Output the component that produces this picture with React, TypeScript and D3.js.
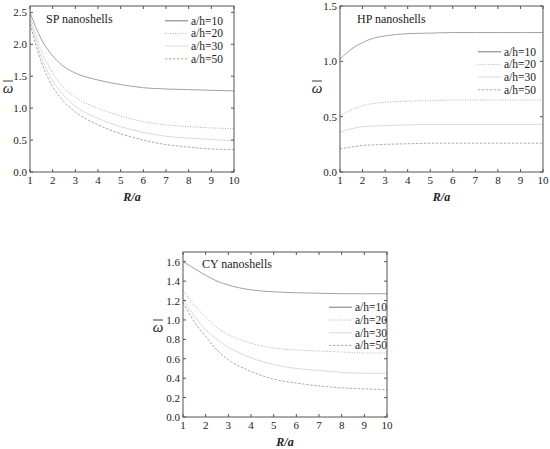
import { scaleLinear, line, curveMonotoneX } from 'd3'

// x values (R/a) shared by every curve
const rValues = [1, 1.5, 2, 2.5, 3, 4, 5, 6, 7, 8, 9, 10]
const seriesNames = ['a/h=10', 'a/h=20', 'a/h=30', 'a/h=50']

const spValues = [
  [2.5, 2.08, 1.82, 1.65, 1.55, 1.44, 1.37, 1.32, 1.3, 1.29, 1.28, 1.27],
  [2.45, 1.9, 1.55, 1.32, 1.17, 1.0, 0.88, 0.79, 0.74, 0.71, 0.69, 0.68],
  [2.38, 1.8, 1.43, 1.19, 1.03, 0.84, 0.71, 0.62, 0.56, 0.53, 0.51, 0.49],
  [2.32, 1.72, 1.34, 1.1, 0.94, 0.74, 0.6, 0.5, 0.43, 0.39, 0.36, 0.35],
]
const hpValues = [
  [1.02, 1.11, 1.17, 1.21, 1.23, 1.25, 1.255, 1.26, 1.26, 1.26, 1.26, 1.26],
  [0.51, 0.56, 0.6, 0.62, 0.63, 0.64, 0.645, 0.65, 0.65, 0.65, 0.65, 0.65],
  [0.36, 0.39, 0.41, 0.415, 0.42, 0.425, 0.43, 0.43, 0.43, 0.43, 0.43, 0.43],
  [0.21, 0.225, 0.24, 0.245, 0.25, 0.255, 0.26, 0.26, 0.26, 0.26, 0.26, 0.26],
]
const cyValues = [
  [1.6, 1.53, 1.46, 1.4, 1.36, 1.31, 1.29, 1.28, 1.275, 1.27, 1.27, 1.27],
  [1.31, 1.15, 1.03, 0.92, 0.85, 0.76, 0.71, 0.69, 0.68, 0.67, 0.66, 0.66],
  [1.22, 1.04, 0.9, 0.8, 0.72, 0.61, 0.54, 0.5, 0.48, 0.46, 0.45, 0.45],
  [1.18, 0.98, 0.83, 0.69, 0.59, 0.47, 0.39, 0.35, 0.32, 0.3, 0.29, 0.28],
]

const xTicks = [1, 2, 3, 4, 5, 6, 7, 8, 9, 10]
const spTicks = [0, 0.5, 1.0, 1.5, 2.0, 2.5]
const hpTicks = [0, 0.5, 1.0, 1.5]
const cyTicks = [0, 0.2, 0.4, 0.6, 0.8, 1.0, 1.2, 1.4, 1.6]

const styles = [
  { stroke: '#a2a2a2', dash: null },
  { stroke: '#b0b0b0', dash: '1,1.5' },
  { stroke: '#dadada', dash: null },
  { stroke: '#ababab', dash: '2.5,1.5' },
]

const FONT = "'Liberation Serif', 'Times New Roman', Times, serif"
const AXIS = '#555'
const TXT = { fontFamily: FONT }

function Panel({ values, yMax, yTicks, box, title, titlePos, legend, yLabelPos }) {
  const [left, right, top, bottom] = box
  const x = scaleLinear().domain([1, 10]).range([left, right])
  const y = scaleLinear().domain([0, yMax]).range([bottom, top])
  const path = line<number>()
    .x((_, i) => x(rValues[i]))
    .y((d) => y(d))
    .curve(curveMonotoneX)

  return (
    <g>
      {values.map((s, i) => (
        <path
          key={i}
          d={path(s) || ''}
          fill="none"
          stroke={styles[i].stroke}
          strokeWidth={1}
          strokeDasharray={styles[i].dash || undefined}
        />
      ))}
      <rect x={left} y={top} width={right - left} height={bottom - top} fill="none" stroke={AXIS} strokeWidth={1} />
      {xTicks.map((t) => (
        <g key={'x' + t}>
          <line x1={x(t)} x2={x(t)} y1={bottom} y2={bottom - 3} stroke={AXIS} />
          <line x1={x(t)} x2={x(t)} y1={top} y2={top + 3} stroke={AXIS} />
          <text x={x(t)} y={bottom + 12} fontSize={11} textAnchor="middle" fill="#222" style={TXT}>
            {t}
          </text>
        </g>
      ))}
      {yTicks.map((t) => (
        <g key={'y' + t}>
          <line x1={left} x2={left + 3} y1={y(t)} y2={y(t)} stroke={AXIS} />
          <line x1={right} x2={right - 3} y1={y(t)} y2={y(t)} stroke={AXIS} />
          <text x={left - 3} y={y(t) + 4} fontSize={11} textAnchor="end" fill="#222" style={TXT}>
            {t.toFixed(1)}
          </text>
        </g>
      ))}
      <text x={titlePos[0]} y={titlePos[1]} fontSize={12} fill="#222" style={TXT}>
        {title}
      </text>
      {seriesNames.map((n, i) => {
        const ly = legend[1] + i * 12.7
        return (
          <g key={n}>
            <line
              x1={legend[0]}
              x2={legend[0] + 23}
              y1={ly}
              y2={ly}
              stroke={styles[i].stroke}
              strokeWidth={i === 0 ? 1.5 : 1}
              strokeDasharray={styles[i].dash || undefined}
            />
            <text x={legend[0] + 26} y={ly + 4} fontSize={11.5} fill="#222" style={TXT}>
              {n}
            </text>
          </g>
        )
      })}
      <text
        x={(left + right) / 2}
        y={bottom + 29}
        fontSize={12}
        fontStyle="italic"
        fontWeight="bold"
        textAnchor="middle"
        fill="#222"
        style={TXT}
      >
        R/a
      </text>
      <g transform={`translate(${yLabelPos[0]},${yLabelPos[1]})`}>
        <text x={0} y={5} fontSize={15} fontStyle="italic" textAnchor="middle" fill="#222" style={TXT}>
          ω
        </text>
        <line x1={-5} x2={5} y1={-7} y2={-7} stroke="#222" strokeWidth={0.9} />
      </g>
    </g>
  )
}

export default function App() {
  return (
    <div style={{ position: 'absolute', left: 0, top: 0 }}>
      <svg width={550} height={449} style={{ display: 'block', background: '#fff' }}>
        <Panel
          values={spValues}
          yMax={2.6}
          yTicks={spTicks}
          box={[30, 234, 6, 172]}
          title="SP nanoshells"
          titlePos={[46, 23]}
          legend={[165, 20.7]}
          yLabelPos={[8, 88]}
        />
        <Panel
          values={hpValues}
          yMax={1.5}
          yTicks={hpTicks}
          box={[340, 543, 6, 172]}
          title="HP nanoshells"
          titlePos={[357, 23]}
          legend={[478, 51.7]}
          yLabelPos={[317, 88]}
        />
        <Panel
          values={cyValues}
          yMax={1.7}
          yTicks={cyTicks}
          box={[183, 387, 252, 417]}
          title="CY nanoshells"
          titlePos={[202, 268]}
          legend={[329, 307.3]}
          yLabelPos={[158, 327]}
        />
      </svg>
    </div>
  )
}
